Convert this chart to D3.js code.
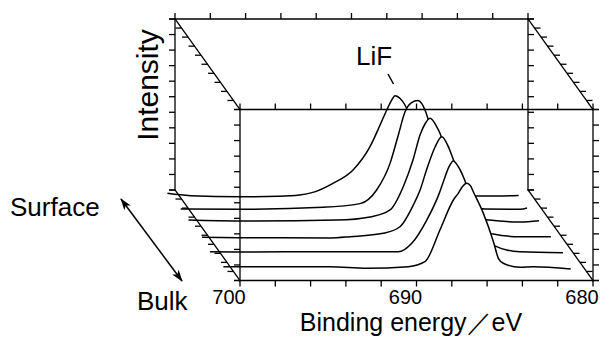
<!DOCTYPE html>
<html>
<head>
<meta charset="utf-8">
<script src="https://cdn.jsdelivr.net/npm/d3@7"></script>
<style>
  body { margin: 0; background: #fff; }
  svg { display: block; }
  text { font-family: "Liberation Sans", Arial, sans-serif; fill: #000; }
</style>
</head>
<body>
<div id="chart"></div>
<script>
// depth position of each spectrum, 0 = surface (back) ... 10 = bulk (front)
const depths = [1.0, 2.4, 3.7, 5.5, 7.1, 8.8]

// spectra: [binding energy / eV, intensity / a.u.]
const spectrum1 = [[700.8,0.37],[699.5,0.22],[696.7,0.15],[694.5,0.18],[693.3,0.26],[692.55,0.43],[691.42,1.01],[690.28,1.87],[689.32,3.37],[688.75,4.76],[688.37,5.73],[688.1,6.35],[687.9,6.65],[687.6,6.45],[687.34,6.05],[687.17,5.62],[686.9,4.6],[686.4,2.3],[686.0,0.9],[685.4,0.45],[684.4,0.3],[683.3,0.2],[682.0,0.2],[680.9,0.23]]
const spectrum2 = [[700.56,0.17],[697.2,0.16],[692.5,0.28],[690.4,0.52],[689.46,1.4],[688.7,3.11],[688.23,4.94],[687.85,6.43],[687.5,7.0],[687.12,7.15],[686.9,6.95],[686.72,6.54],[686.3,5.0],[685.7,2.6],[685.3,1.0],[684.7,0.5],[683.3,0.18],[681.3,0.16],[680.94,0.24]]
const spectrum3 = [[700.6,0.22],[697.7,0.16],[692.2,0.22],[690.22,0.44],[689.18,0.87],[688.39,2.48],[687.88,4.08],[687.48,5.69],[687.2,6.4],[686.91,6.77],[686.54,6.23],[686.35,5.8],[686.0,4.5],[685.5,2.3],[685.1,0.9],[684.5,0.45],[683.56,0.22],[681.8,0.1],[680.74,0.18]]
const spectrum4 = [[700.5,0.16],[698.4,0.13],[693.2,0.12],[692.1,0.2],[690.22,0.42],[689.28,0.84],[688.52,2.24],[688.14,3.2],[687.74,4.62],[687.29,5.97],[686.91,6.63],[686.54,5.99],[686.35,5.45],[686.0,4.3],[685.5,2.2],[685.1,0.9],[684.5,0.5],[684.0,0.37],[682.5,0.2],[680.73,0.2]]
const spectrum5 = [[700.63,0.16],[699.0,0.15],[693.8,0.16],[689.96,0.16],[689.2,0.71],[688.35,2.2],[687.65,3.9],[687.4,4.7],[687.1,5.6],[686.85,6.0],[686.56,5.63],[686.28,4.99],[685.9,3.8],[685.4,1.9],[684.9,0.8],[684.39,0.49],[683.82,0.27],[683.07,0.16],[680.63,0.1]]
const spectrum6 = [[700.5,0.19],[699.6,0.19],[694.46,0.19],[692.38,0.09],[690.02,0.19],[689.08,0.51],[688.23,2.55],[687.47,4.48],[687.19,4.91],[686.95,5.35],[686.71,5.55],[686.5,5.4],[686.34,5.01],[685.77,3.62],[685.2,1.8],[684.92,0.73],[684.64,0.41],[683.7,0.15],[682.94,0.19],[680.82,0.04]]
const spectra = [spectrum1, spectrum2, spectrum3, spectrum4, spectrum5, spectrum6]

const energyLabels = [700, 690, 680]

const width = 600
const height = 338
const tickLen = 6

// oblique projection: front face is a plain x/y plot, depth shifts up-left
const x = d3.scaleLinear().domain([700, 680]).range([240, 593])
const y = d3.scaleLinear().domain([0, 11]).range([280.5, 109.5])
const dx = d3.scaleLinear().domain([0, 10]).range([-65, 0])
const dy = d3.scaleLinear().domain([0, 10]).range([-90.5, 0])
const proj = (e, i, d) => [x(e) + dx(d), y(i) + dy(d)]

const [eMin, eMax] = x.domain()
const [iMin, iMax] = y.domain()
const [dBack, dFront] = dx.domain()

const svg = d3.select('#chart')
  .append('svg')
  .attr('width', width)
  .attr('height', height)

// spectra, back to front, each filled white so it hides the ones behind
const line = d3.line().curve(d3.curveMonotoneX)

spectra.forEach((s, k) => {
  const d = depths[k]
  const pts = s.map(p => proj(p[0], p[1], d))
  const floorY = y(0) + dy(d)
  svg.append('path')
    .attr('d', d3.area().curve(d3.curveMonotoneX).x(p => p[0]).y0(floorY).y1(p => p[1])(pts))
    .attr('fill', '#fff')
  svg.append('path')
    .attr('d', line(pts))
    .attr('fill', 'none')
    .attr('stroke', '#000')
    .attr('stroke-width', 1.5)
    .attr('stroke-linejoin', 'round')
})

// box edges
const edges = [
  [[eMin, iMin, dBack], [eMin, iMax, dBack]],
  [[eMax, iMin, dBack], [eMax, iMax, dBack]],
  [[eMin, iMax, dBack], [eMax, iMax, dBack]],
  [[eMin, iMax, dBack], [eMin, iMax, dFront]],
  [[eMax, iMax, dBack], [eMax, iMax, dFront]],
  [[eMin, iMin, dBack], [eMin, iMin, dFront]],
  [[eMax, iMin, dBack], [eMax, iMin, dFront]],
  [[eMin, iMin, dFront], [eMin, iMax, dFront]],
  [[eMax, iMin, dFront], [eMax, iMax, dFront]],
  [[eMin, iMax, dFront], [eMax, iMax, dFront]],
  [[eMin, iMin, dFront], [eMax, iMin, dFront]]
]

const box = svg.append('g')
  .attr('stroke', '#000')
  .attr('stroke-width', 1.3)
  .attr('stroke-linecap', 'square')

box.selectAll('line.edge')
  .data(edges)
  .join('line')
  .attr('class', 'edge')
  .attr('x1', d => proj(...d[0])[0])
  .attr('y1', d => proj(...d[0])[1])
  .attr('x2', d => proj(...d[1])[0])
  .attr('y2', d => proj(...d[1])[1])

// ticks: [point, direction x, direction y]
const eTicks = x.ticks(10)
const iTicks = y.ticks(11)
const dTicks = dx.ticks(10)
const ticks = []
eTicks.forEach(e => {
  ticks.push([proj(e, iMax, dBack), 0, -1])
  ticks.push([proj(e, iMax, dFront), 0, -1])
  ticks.push([proj(e, iMin, dFront), 0, 1])
})
iTicks.forEach(i => {
  ticks.push([proj(eMin, i, dBack), -1, 0])
  ticks.push([proj(eMin, i, dFront), -1, 0])
  ticks.push([proj(eMax, i, dBack), 1, 0])
  ticks.push([proj(eMax, i, dFront), 1, 0])
})
dTicks.forEach(d => {
  ticks.push([proj(eMin, iMax, d), -1, 0])
  ticks.push([proj(eMin, iMin, d), -1, 0])
  ticks.push([proj(eMax, iMax, d), 1, 0])
  ticks.push([proj(eMax, iMin, d), 1, 0])
})

box.selectAll('line.tick')
  .data(ticks)
  .join('line')
  .attr('class', 'tick')
  .attr('stroke-linecap', 'butt')
  .attr('x1', d => d[0][0])
  .attr('y1', d => d[0][1])
  .attr('x2', d => d[0][0] + d[1] * tickLen)
  .attr('y2', d => d[0][1] + d[2] * tickLen)

svg.selectAll('text.elabel')
  .data(energyLabels)
  .join('text')
  .attr('class', 'elabel')
  .attr('x', d => x(d) - 11)
  .attr('y', 304)
  .attr('text-anchor', 'middle')
  .attr('font-size', 20)
  .text(d => d)

svg.append('text')
  .attr('x', 411)
  .attr('y', 331)
  .attr('text-anchor', 'middle')
  .attr('font-size', 25)
  .text('Binding energy／eV')

svg.append('text')
  .attr('transform', 'translate(158,85) rotate(-90)')
  .attr('text-anchor', 'middle')
  .attr('font-size', 30)
  .text('Intensity')

svg.append('text')
  .attr('x', 10)
  .attr('y', 216)
  .attr('font-size', 26)
  .text('Surface')

svg.append('text')
  .attr('x', 137)
  .attr('y', 310)
  .attr('font-size', 26)
  .text('Bulk')

svg.append('text')
  .attr('x', 356)
  .attr('y', 65)
  .attr('font-size', 26)
  .text('LiF')

svg.append('line')
  .attr('x1', 388).attr('y1', 74)
  .attr('x2', 393.5).attr('y2', 84)
  .attr('stroke', '#000')
  .attr('stroke-width', 1.5)

// surface <-> bulk arrow, parallel to the depth axis
svg.append('defs').append('marker')
  .attr('id', 'head')
  .attr('viewBox', '0 0 12 8')
  .attr('refX', 11)
  .attr('refY', 4)
  .attr('markerWidth', 12)
  .attr('markerHeight', 8)
  .attr('markerUnits', 'userSpaceOnUse')
  .attr('orient', 'auto-start-reverse')
  .append('path')
  .attr('d', 'M0,0L12,4L0,8L3,4Z')
  .attr('fill', '#000')

svg.append('line')
  .attr('x1', 121).attr('y1', 199)
  .attr('x2', 182).attr('y2', 281)
  .attr('stroke', '#000')
  .attr('stroke-width', 1.5)
  .attr('marker-start', 'url(#head)')
  .attr('marker-end', 'url(#head)')
</script>
</body>
</html>
